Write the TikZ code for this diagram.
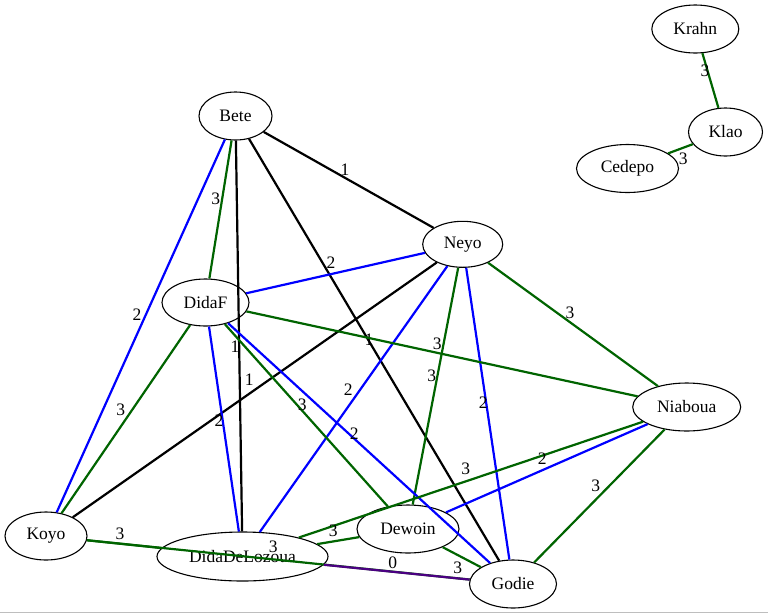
\documentclass[tikz,border=0pt]{standalone}
\usepackage{fontspec}
\setmainfont{Liberation Serif}
\usetikzlibrary{shapes.geometric}
\definecolor{egreen}{RGB}{0,100,0}
\definecolor{eblue}{RGB}{0,0,255}
\definecolor{epurple}{RGB}{75,0,130}
\definecolor{frame}{RGB}{190,190,190}
\tikzset{
  nd/.style={draw=black, line width=1.1pt, ellipse, inner sep=0pt, font=\fontsize{17.5}{20}\selectfont},
  ed/.style={line width=2.2pt},
  g/.style={ed, draw=egreen},
  b/.style={ed, draw=eblue},
  k/.style={ed, draw=black},
  p/.style={ed, draw=epurple},
  lbl/.style={inner sep=0pt, font=\fontsize{17.5}{20}\selectfont}
}
\begin{document}
\begin{tikzpicture}[x=1pt, y=-1pt]
\useasboundingbox (0,0) rectangle (768,614);
\fill[white] (0,0) rectangle (768,614);
\draw[frame, line width=1pt] (0,612.5) -- (768,612.5);

% nodes
\node[nd, minimum width=87pt, minimum height=48pt] (krahn) at (695.3,29) {Krahn};
\node[nd, minimum width=74pt, minimum height=48pt] (klao) at (725.5,132) {Klao};
\node[nd, minimum width=102pt, minimum height=48pt] (cedepo) at (627.5,168.5) {Cedepo};
\node[nd, minimum width=73pt, minimum height=48pt] (bete) at (235.5,116) {Bete};
\node[nd, minimum width=80pt, minimum height=46pt] (neyo) at (462.7,244.3) {Neyo};
\node[nd, minimum width=87pt, minimum height=47pt] (didaf) at (205.5,302.5) {DidaF};
\node[nd, minimum width=108pt, minimum height=48pt] (niaboua) at (686.7,407) {Niaboua};
\node[nd, minimum width=82pt, minimum height=48pt] (koyo) at (46,536) {Koyo};
\node[nd, minimum width=171pt, minimum height=49pt] (dida) at (242.5,556.5) {DidaDeLozoua};
\node[nd, minimum width=102pt, minimum height=48pt] (dewoin) at (408,529) {Dewoin};
\node[nd, minimum width=87pt, minimum height=48pt] (godie) at (513,584) {Godie};

% edges
\draw[g] (krahn) -- (klao) node[lbl, at={(705,70.7)}] {3};
\draw[g] (klao) -- (cedepo) node[lbl, at={(683.3,158.3)}] {3};
\draw[k] (bete) -- (neyo) node[lbl, at={(345,169.3)}] {1};
\draw[b] (bete) -- (koyo) node[lbl, at={(137,315)}] {2};
\draw[g] (bete) -- (didaf) node[lbl, at={(215.7,198.3)}] {3};
\draw[k] (bete) -- (dida) node[lbl, at={(235,346.7)}] {1};
\draw[k] (bete) -- (godie) node[lbl, at={(369,339.3)}] {1};
\draw[b] (neyo) -- (didaf) node[lbl, at={(331,262.7)}] {2};
\draw[k] (neyo) -- (koyo) node[lbl, at={(249.3,379.3)}] {1};
\draw[b] (neyo) -- (dida) node[lbl, at={(348.3,390)}] {2};
\draw[g] (neyo) -- (dewoin) node[lbl, at={(431.7,375.7)}] {3};
\draw[b] (neyo) -- (godie) node[lbl, at={(483.3,402.7)}] {2};
\draw[g] (neyo) -- (niaboua) node[lbl, at={(570,313)}] {3};
\draw[g] (didaf) -- (niaboua) node[lbl, at={(437.3,344)}] {3};
\draw[g] (didaf) -- (koyo) node[lbl, at={(120.7,410)}] {3};
\draw[b] (didaf) -- (dida) node[lbl, at={(219,420.7)}] {2};
\draw[g] (didaf) -- (dewoin) node[lbl, at={(302.3,405)}] {3};
\draw[b] (didaf) -- (godie) node[lbl, at={(354.3,433.3)}] {2};
\draw[g] (niaboua) -- (dida) node[lbl, at={(465.7,468.3)}] {3};
\draw[b] (niaboua) -- (dewoin) node[lbl, at={(542.3,458.3)}] {2};
\draw[g] (niaboua) -- (godie) node[lbl, at={(595.7,485.3)}] {3};
\draw[g] (koyo) -- (dida) node[lbl, at={(120,534)}] {3};
\draw[g] (koyo) -- (godie) node[lbl, at={(273.3,546.7)}] {3};
\draw[g] (dida) -- (dewoin) node[lbl, at={(333.3,530.7)}] {3};
\draw[g] (dewoin) -- (godie) node[lbl, at={(457.7,567.3)}] {3};
\draw[p] (dida) -- (godie) node[lbl, at={(392.7,562.7)}] {0};
\end{tikzpicture}
\end{document}
